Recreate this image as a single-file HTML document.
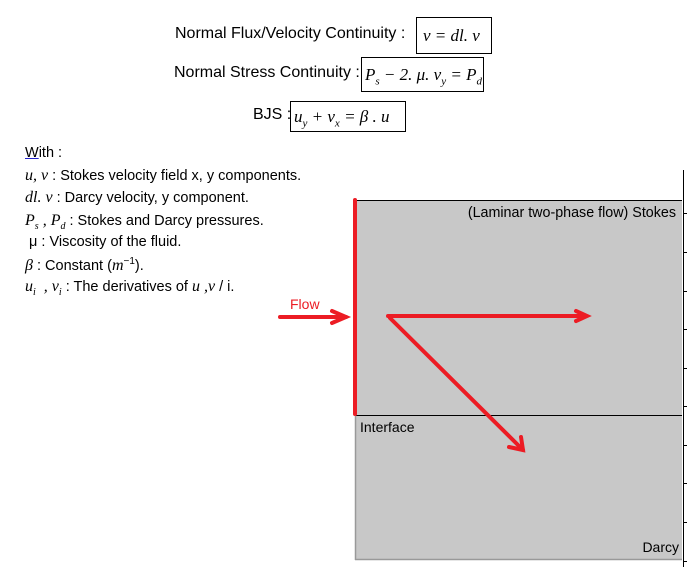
<!DOCTYPE html>
<html><head><style>
body{margin:0;background:#fff;width:690px;height:567px;overflow:hidden;position:relative;font-family:"Liberation Sans",sans-serif;}
.t{position:absolute;font-size:16px;color:#000;white-space:nowrap;}
.m{font-family:"Liberation Serif",serif;font-style:italic;font-size:16px;}
.box{position:absolute;border:1px solid #000;font-family:"Liberation Serif",serif;font-style:italic;font-size:17px;white-space:nowrap;padding-left:6px;box-sizing:border-box;}
.l{position:absolute;left:25px;font-size:14.5px;white-space:nowrap;}
</style></head><body>
<div class="t" style="left:175px;top:25px;">Normal Flux/Velocity Continuity :</div>
<div class="box" style="left:416px;top:17px;width:76px;height:37px;line-height:35px;">v = dl. v</div>
<div class="t" style="left:174px;top:64px;">Normal Stress Continuity :</div>
<div class="box" style="left:361px;top:57px;width:123px;height:35px;line-height:33px;padding-left:3px;">P<sub style="font-size:11px">s</sub> − 2. μ. v<sub style="font-size:11px">y</sub> = P<sub style="font-size:11px">d</sub></div>
<div class="t" style="left:253px;top:106px;">BJS :</div>
<div class="box" style="left:290px;top:101px;width:116px;height:31px;line-height:29px;padding-left:3px;">u<sub style="font-size:11px">y</sub> + v<sub style="font-size:11px">x</sub> = β . u</div>

<div class="l" style="top:145px;"><span style="text-decoration:underline;text-decoration-color:#22c">W</span>ith :</div>
<div class="l" style="top:167px;"><span class="m">u, v</span> : Stokes velocity field x, y components.</div>
<div class="l" style="top:189px;"><span class="m">dl. v</span> : Darcy velocity, y component.</div>
<div class="l" style="top:212px;"><span class="m">P<sub style="font-size:10px">s</sub> , P<sub style="font-size:10px">d</sub></span> : Stokes and Darcy pressures.</div>
<div class="l" style="top:234px;">&nbsp;μ : Viscosity of the fluid.</div>
<div class="l" style="top:256px;"><span class="m">β</span> : Constant (<span class="m">m</span><sup style="font-size:10px">−1</sup>).</div>
<div class="l" style="top:278px;"><span class="m">u<sub style="font-size:10px">i</sub> &nbsp;, v<sub style="font-size:10px">i</sub></span> : The derivatives of <span class="m">u ,v</span> / i.</div>

<svg width="690" height="567" style="position:absolute;left:0;top:0;">
<rect x="355" y="200" width="327" height="359" fill="#c8c8c8"/>
<line x1="355" y1="200.5" x2="682" y2="200.5" stroke="#000"/>
<line x1="355" y1="415.5" x2="682" y2="415.5" stroke="#000"/>
<line x1="355.5" y1="415" x2="355.5" y2="560" stroke="#999" stroke-width="1.5"/>
<line x1="355" y1="559.5" x2="682" y2="559.5" stroke="#999" stroke-width="1.5"/>
<line x1="683.5" y1="170" x2="683.5" y2="567" stroke="#000"/>
<g stroke="#000">
<line x1="683" y1="213.5" x2="687" y2="213.5"/><line x1="683" y1="252.5" x2="687" y2="252.5"/>
<line x1="683" y1="291.5" x2="687" y2="291.5"/><line x1="683" y1="329.5" x2="687" y2="329.5"/>
<line x1="683" y1="368.5" x2="687" y2="368.5"/><line x1="683" y1="406.5" x2="687" y2="406.5"/>
<line x1="683" y1="445.5" x2="687" y2="445.5"/><line x1="683" y1="483.5" x2="687" y2="483.5"/>
<line x1="683" y1="522.5" x2="687" y2="522.5"/><line x1="683" y1="561.5" x2="687" y2="561.5"/>
</g>
<g stroke="#ec1c24" stroke-width="4" stroke-linecap="round" fill="none">
<line x1="355" y1="200" x2="355" y2="414"/>
<line x1="280" y1="317" x2="346" y2="317"/>
<polyline points="332,311 346,317 332,323"/>
<line x1="388" y1="316" x2="586" y2="316"/>
<polyline points="576,311 587,316 576,321"/>
<line x1="390" y1="318" x2="523" y2="450"/>
<polyline points="509,447 523,450 521,437"/>
</g>
<text x="290" y="309" font-family="Liberation Sans" font-size="14" fill="#ec1c24">Flow</text>
<text x="676" y="217" text-anchor="end" font-family="Liberation Sans" font-size="14.3" fill="#000">(Laminar two-phase flow) Stokes</text>
<text x="360" y="432" font-family="Liberation Sans" font-size="14" fill="#000">Interface</text>
<text x="679" y="552" text-anchor="end" font-family="Liberation Sans" font-size="14" fill="#000">Darcy</text>
</svg>
</body></html>
